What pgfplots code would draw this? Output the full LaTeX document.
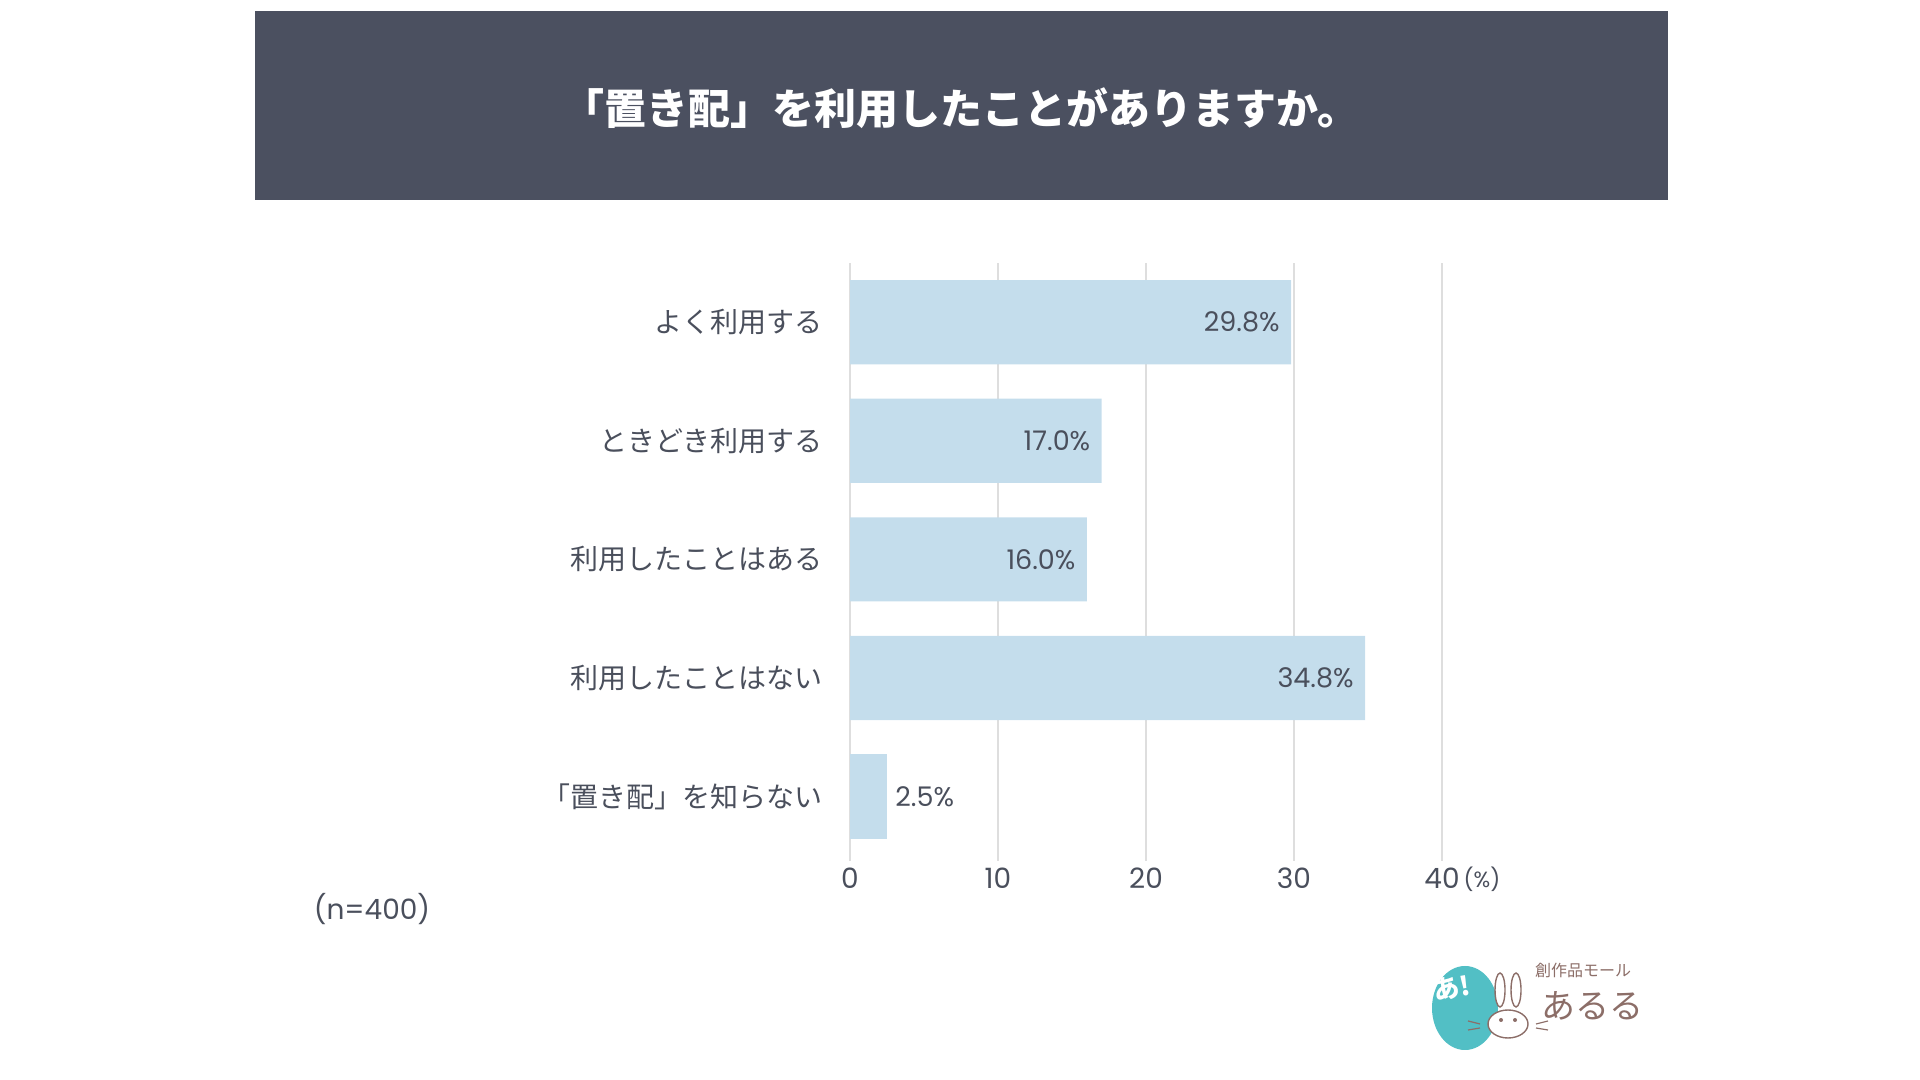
\documentclass[border=0pt]{standalone}
\usepackage{fontspec}
\setmainfont{Noto Sans CJK JP}
\newfontfamily\numfont{Poppins}
\usepackage{pgfplots}
\pgfplotsset{compat=1.18}
\definecolor{band}{HTML}{4B5060}
\definecolor{txt}{HTML}{4A4F5C}
\definecolor{barc}{HTML}{C4DDEC}
\definecolor{gridc}{HTML}{DEDEDE}
\definecolor{logoteal}{HTML}{52BFC5}
\definecolor{logobrown}{HTML}{8C6E68}
\begin{document}
\begin{tikzpicture}
\path[use as bounding box] (0,0) rectangle (960pt,540pt);
\fill[band] (127.5pt,440pt) rectangle (834pt,534.5pt);
\node[text=white,font=\fontsize{21}{24}\selectfont\bfseries] at (480.5pt,486pt) {「置き配」を利用したことがありますか。};
\begin{axis}[
 at={(425pt,109.5pt)}, anchor=south west,
 width=296pt, height=299pt, scale only axis,
 xmin=0, xmax=40, ymin=-0.544, ymax=4.5,
 xbar, bar width=0.71, bar shift=0pt,
 xtick={0,10,20,30,40},
 ytick={0,1,2,3,4},
 yticklabels={「置き配」を知らない, 利用したことはない, 利用したことはある, ときどき利用する, よく利用する},
 xmajorgrids, major grid style={gridc, line width=1pt},
 axis line style={draw=none},
 major tick length=0pt,
 tick style={draw=none},
 yticklabel style={font=\fontsize{14}{16}\selectfont, text=txt, xshift=-10pt},
 xticklabel style={font=\numfont\fontsize{14}{16}\selectfont, text=txt},
 /pgf/number format/assume math mode=true,
 clip=false,
]
\addplot[fill=barc, draw=none,
  nodes near coords={\pgfmathprintnumber[fixed,fixed zerofill,precision=1]{\pgfplotspointmeta}\%},
  nodes near coords style={anchor=east, inner sep=0pt, xshift=-5.5pt, text=txt, font=\numfont\fontsize{13.5}{16}\selectfont}]
  coordinates {(29.8,4) (17.0,3) (16.0,2) (34.8,1)};
\addplot[fill=barc, draw=none,
  nodes near coords={\pgfmathprintnumber[fixed,fixed zerofill,precision=1]{\pgfplotspointmeta}\%},
  nodes near coords style={anchor=west, inner sep=0pt, xshift=4pt, text=txt, font=\numfont\fontsize{13.5}{16}\selectfont}]
  coordinates {(2.5,0)};
\end{axis}
\node[text=txt, font=\numfont\fontsize{11}{12}\selectfont] at (741pt,100.5pt) {(\%)};
\node[text=txt, font=\numfont\fontsize{14}{16}\selectfont] at (186pt,85.5pt) {(n=400)};
\begin{scope}[x=0.5pt,y=-0.5pt,shift={(0,540pt)}]
\fill[logoteal] (1465,1008) ellipse (33 and 42);
\node[white, font=\fontsize{13}{13}\selectfont\bfseries, rotate=10] at (1452,988) {あ!};
\draw[logobrown, line width=0.7pt, fill=white] (1500,990) ellipse (5 and 17);
\draw[logobrown, line width=0.7pt, fill=white] (1516,990) ellipse (5 and 17);
\draw[logobrown, line width=0.7pt, fill=white] (1508,1024) ellipse (20 and 14);
\fill[logobrown] (1501,1020) circle (2);
\fill[logobrown] (1515,1020) circle (2);
\draw[logobrown, line width=0.6pt] (1480,1024) -- (1468,1021) (1480,1028) -- (1468,1030) (1536,1024) -- (1548,1021) (1536,1028) -- (1548,1030);
\node[text=logobrown, font=\fontsize{8}{8}\selectfont] at (1583,970) {創作品モール};
\node[text=logobrown, font=\fontsize{17}{17}\selectfont] at (1592,1006) {あるる};
\end{scope}
\end{tikzpicture}
\end{document}
